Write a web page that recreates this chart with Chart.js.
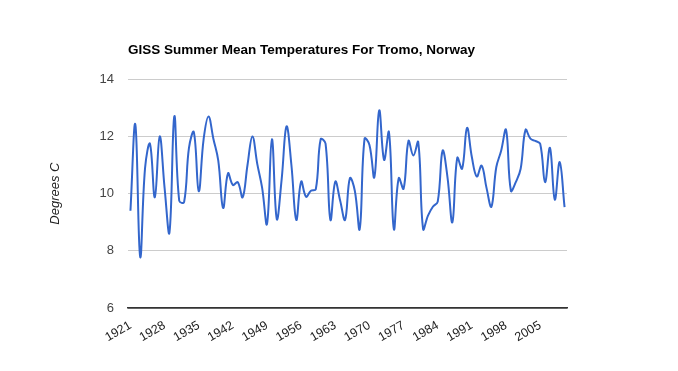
<!DOCTYPE html>
<html>
<head>
<meta charset="utf-8">
<script src="https://cdn.jsdelivr.net/npm/chart.js@4.4.0/dist/chart.umd.min.js"></script>
<style>
  html, body { margin: 0; padding: 0; background: #fff; }
  #wrap { width: 678px; height: 371px; }
</style>
</head>
<body>
<div id="wrap"><canvas id="tempChart" width="678" height="371"></canvas></div>
<script>
// years on the x axis
const years = [
  '1921','1922','1923','1924','1925','1926','1927','1928','1929','1930',
  '1931','1932','1933','1934','1935','1936','1937','1938','1939','1940',
  '1941','1942','1943','1944','1945','1946','1947','1948','1949','1950',
  '1951','1952','1953','1954','1955','1956','1957','1958','1959','1960',
  '1961','1962','1963','1964','1965','1966','1967','1968','1969','1970',
  '1971','1972','1973','1974','1975','1976','1977','1978','1979','1980',
  '1981','1982','1983','1984','1985','1986','1987','1988','1989','1990',
  '1991','1992','1993','1994','1995','1996','1997','1998','1999','2000',
  '2001','2002','2003','2004','2005','2006','2007','2008','2009','2010'
];

// summer mean temperature, degrees C
const summerMean = [
  9.40, 12.42, 7.79, 10.9, 11.74, 9.87, 12.0, 10.2, 8.64, 12.70,
  9.75, 9.70, 11.6, 12.15, 10.08, 11.9, 12.70, 11.92, 11.16, 9.50,
  10.71, 10.30, 10.40, 9.87, 11.0, 12.0, 11.04, 10.2, 8.94, 11.9,
  9.11, 10.5, 12.35, 11.0, 9.08, 10.42, 9.89, 10.1, 10.15, 11.9,
  11.75, 9.08, 10.42, 9.75, 9.08, 10.54, 10.1, 8.76, 11.92, 11.7,
  10.57, 12.91, 11.18, 12.15, 8.76, 10.54, 10.17, 11.84, 11.33, 11.8,
  8.76, 9.23, 9.54, 9.72, 11.5, 10.57, 9.0, 11.25, 10.87, 12.30,
  11.27, 10.6, 10.98, 10.2, 9.54, 10.92, 11.5, 12.23, 10.1, 10.4,
  10.87, 12.23, 11.92, 11.84, 11.74, 10.4, 11.6, 9.79, 11.1, 9.53
];

// labelled years on the x axis
const tickYears = ['1921','1928','1935','1942','1949','1956','1963','1970','1977','1984','1991','1998','2005'];

// y axis range
const yMin = 6;
const yMax = 14;
const yStep = 2;

Chart.defaults.font.family = 'Arial, "Liberation Sans", sans-serif';

var ctx = document.getElementById('tempChart').getContext('2d');
var tempChart = new Chart(ctx, {
    type: 'line',
    data: {
        labels: years,
        datasets: [{
            label: 'Summer mean',
            data: summerMean,
            borderColor: '#3366cc',
            borderWidth: 2,
            pointRadius: 0,
            tension: 0.4,
            fill: false
        }]
    },
    options: {
        responsive: false,
        animation: false,
        layout: {
            padding: { left: 44, right: 111, top: 42, bottom: 0 }
        },
        plugins: {
            legend: { display: false },
            tooltip: { enabled: false },
            title: {
                display: true,
                text: 'GISS Summer Mean Temperatures For Tromo, Norway',
                align: 'start',
                fullSize: false,
                color: '#000',
                font: { size: 13.5, weight: 'bold' },
                padding: { top: 0, bottom: 21 }
            }
        },
        scales: {
            x: {
                offset: true,
                grid: { display: false },
                border: { display: true, color: '#333', width: 1.5 },
                ticks: {
                    autoSkip: false,
                    minRotation: 30,
                    maxRotation: 30,
                    padding: 2,
                    color: '#222',
                    font: { size: 12.5 },
                    callback: function(value) {
                        let lab = this.getLabelForValue(value);
                        return tickYears.includes(lab) ? lab : null;
                    }
                },
                afterFit: function(scale) { scale.height = 63; }
            },
            y: {
                min: yMin,
                max: yMax,
                ticks: {
                    stepSize: yStep,
                    padding: 14,
                    color: '#444',
                    font: { size: 13 }
                },
                grid: {
                    drawTicks: false,
                    color: c => c.tick.value === yMin ? '#333' : '#cccccc',
                    lineWidth: c => c.tick.value === yMin ? 1.5 : 1
                },
                border: { display: false },
                title: {
                    display: true,
                    text: 'Degrees C',
                    color: '#222',
                    font: { size: 13, style: 'italic' },
                    padding: { top: 4, bottom: 4 }
                },
                afterFit: function(scale) { scale.width = 84; }
            }
        }
    }
});
</script>
</body>
</html>
